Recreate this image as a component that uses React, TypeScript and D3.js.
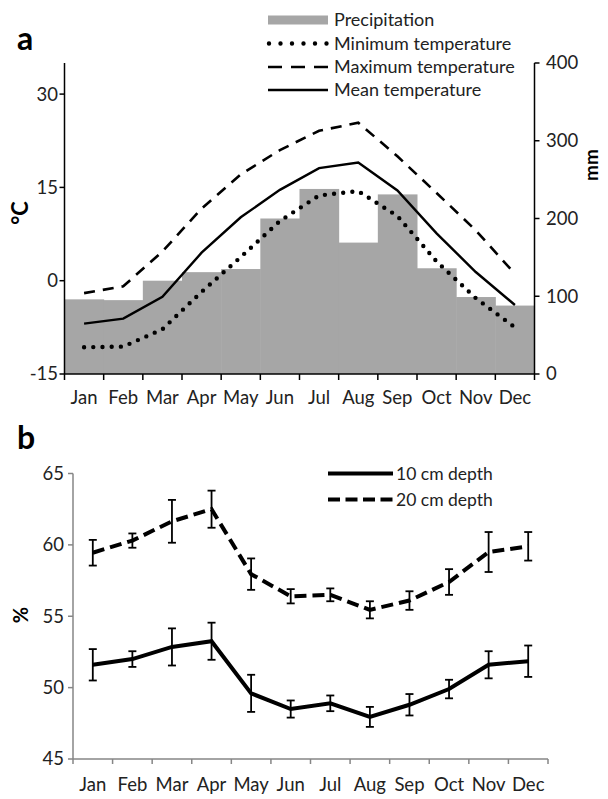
import React from "react";
import * as d3 from "d3";

const months = ["Jan", "Feb", "Mar", "Apr", "May", "Jun", "Jul", "Aug", "Sep", "Oct", "Nov", "Dec"];
const precip = [96, 95, 120, 131, 135, 200, 238, 169, 231, 136, 99, 88];
const tMin = [-10.7, -10.6, -7.8, -1.8, 3.8, 9.6, 13.7, 14.4, 10.4, 3.1, -2.8, -7.5];
const tMax = [-2.0, -0.9, 4.7, 11.6, 17.1, 21.0, 24.1, 25.4, 20.0, 14.1, 8.1, 1.1];
const tMean = [-6.9, -6.1, -2.6, 4.5, 10.2, 14.6, 18.1, 19.0, 14.5, 7.6, 1.4, -3.9];
const tempTicks = [-15, 0, 15, 30];
const precipTicks = [0, 100, 200, 300, 400];

const soil10 = [51.6, 52.0, 52.85, 53.25, 49.6, 48.5, 48.9, 47.95, 48.8, 49.9, 51.6, 51.85];
const soil10Err = [1.1, 0.55, 1.3, 1.3, 1.3, 0.6, 0.55, 0.7, 0.75, 0.65, 0.95, 1.1];
const soil20 = [59.45, 60.3, 61.65, 62.5, 57.95, 56.4, 56.5, 55.45, 56.1, 57.4, 59.5, 59.9];
const soil20Err = [0.9, 0.5, 1.5, 1.3, 1.1, 0.5, 0.45, 0.6, 0.65, 0.9, 1.4, 1.0];
const soilTicks = [45, 50, 55, 60, 65];

const FONT = "Lato, 'Liberation Sans', sans-serif";
const GREY = "#a6a6a6";

export default function App() {
  // Panel a
  const xA = d3.scaleBand<string>().domain(months).range([64.5, 534.5]).padding(0);
  const yT = d3.scaleLinear().domain([-15, 35]).range([374, 63]);
  const yP = d3.scaleLinear().domain([0, 400]).range([374, 63]);
  const cxA = (m: string) => (xA(m) as number) + xA.bandwidth() / 2;
  const tLine = d3
    .line<number>()
    .x((_, i) => cxA(months[i]))
    .y((d) => yT(d));

  // Panel b
  const xB = d3.scaleBand<string>().domain(months).range([73, 548]).padding(0);
  const yB = d3.scaleLinear().domain([45, 65]).range([759, 473.5]);
  const cxB = (m: string) => (xB(m) as number) + xB.bandwidth() / 2;
  const sLine = d3
    .line<number>()
    .x((_, i) => cxB(months[i]))
    .y((d) => yB(d));

  const boundsA = d3.range(months.length + 1).map((i) => xA.range()[0] + i * xA.bandwidth());
  const boundsB = d3.range(months.length + 1).map((i) => xB.range()[0] + i * xB.bandwidth());

  const legendA = [
    { label: "Precipitation", y: 20, kind: "bar" },
    { label: "Minimum temperature", y: 43.5, kind: "dot" },
    { label: "Maximum temperature", y: 67, kind: "dash" },
    { label: "Mean temperature", y: 90, kind: "solid" },
  ];

  const errBars = (vals: number[], errs: number[]) =>
    vals.map((v, i) => {
      const x = cxB(months[i]);
      const y1 = yB(v + errs[i]);
      const y2 = yB(v - errs[i]);
      return (
        <g key={i} stroke="#000" strokeWidth={1.8}>
          <line x1={x} x2={x} y1={y1} y2={y2} />
          <line x1={x - 4} x2={x + 4} y1={y1} y2={y1} />
          <line x1={x - 4} x2={x + 4} y1={y2} y2={y2} />
        </g>
      );
    });

  return (
    <svg width={608} height={799} style={{ position: "absolute", left: 0, top: 0, background: "#fff" }} fontFamily={FONT}>
      <rect width={608} height={799} fill="#fff" />
      {/* ---------- Panel a ---------- */}
      <text x={17} y={50} fontSize={32} fontWeight="bold">a</text>
      {/* bars */}
      {precip.map((p, i) => (
        <rect
          key={i}
          x={xA(months[i])}
          y={yP(p)}
          width={xA.bandwidth() + 0.5}
          height={yP(0) - yP(p)}
          fill={GREY}
        />
      ))}
      {/* lines */}
      <path d={tLine(tMax) || ""} fill="none" stroke="#000" strokeWidth={2.6} strokeDasharray="11 8" />
      <path d={tLine(tMean) || ""} fill="none" stroke="#000" strokeWidth={2.4} />
      <path d={tLine(tMin) || ""} fill="none" stroke="#000" strokeWidth={4.4} strokeDasharray="0 9.2" strokeLinecap="round" />
      {/* axes */}
      <g stroke="#000" strokeWidth={1.5}>
        <line x1={xA.range()[0]} x2={xA.range()[0]} y1={yT(35)} y2={yT(-15)} />
        <line x1={xA.range()[1]} x2={xA.range()[1]} y1={yP(400)} y2={yP(0)} />
        <line x1={xA.range()[0]} x2={xA.range()[1]} y1={yT(-15)} y2={yT(-15)} />
        {boundsA.map((b, i) => (
          <line key={i} x1={b} x2={b} y1={yT(-15)} y2={yT(-15) + 6} />
        ))}
        {tempTicks.map((t) => (
          <line key={t} x1={xA.range()[0] - 5} x2={xA.range()[0]} y1={yT(t)} y2={yT(t)} />
        ))}
        {precipTicks.map((t) => (
          <line key={t} x1={xA.range()[1]} x2={xA.range()[1] + 5} y1={yP(t)} y2={yP(t)} />
        ))}
      </g>
      <g fontSize={18.5} fill="#222">
        {tempTicks.map((t) => (
          <text key={t} x={58} y={yT(t)} dy="0.35em" textAnchor="end">{t}</text>
        ))}
        {precipTicks.map((t) => (
          <text key={t} x={546} y={yP(t)} dy="0.35em" textAnchor="start">{t}</text>
        ))}
        {months.map((m) => (
          <text key={m} x={cxA(m)} y={398} dy="0.35em" textAnchor="middle">{m}</text>
        ))}
      </g>
      <text transform="translate(28,213) rotate(-90)" textAnchor="middle" fontSize={22} fontWeight="bold">°C</text>
      <text transform="translate(598,165) rotate(-90)" textAnchor="middle" fontSize={19} fontWeight="bold">mm</text>
      {/* legend a */}
      {legendA.map((l) => (
        <g key={l.label}>
          {l.kind === "bar" && <rect x={268} y={l.y - 4.5} width={60} height={9} fill={GREY} />}
          {l.kind === "dot" && (
            <line x1={269} x2={327} y1={l.y} y2={l.y} stroke="#000" strokeWidth={4.4} strokeDasharray="0 11.5" strokeLinecap="round" />
          )}
          {l.kind === "dash" && (
            <line x1={268} x2={328} y1={l.y} y2={l.y} stroke="#000" strokeWidth={2.6} strokeDasharray="14 9" />
          )}
          {l.kind === "solid" && <line x1={268} x2={328} y1={l.y} y2={l.y} stroke="#000" strokeWidth={2.4} />}
          <text x={334} y={l.y} dy="0.35em" fontSize={18} fill="#222">{l.label}</text>
        </g>
      ))}

      {/* ---------- Panel b ---------- */}
      <text x={17} y={449} fontSize={32} fontWeight="bold">b</text>
      <g stroke="#868686" strokeWidth={1.5}>
        <line x1={xB.range()[0]} x2={xB.range()[0]} y1={yB(65)} y2={yB(45)} />
        <line x1={xB.range()[0]} x2={xB.range()[1]} y1={yB(45)} y2={yB(45)} />
        {boundsB.map((b, i) => (
          <line key={i} x1={b} x2={b} y1={yB(45)} y2={yB(45) + 5} />
        ))}
        {soilTicks.map((t) => (
          <line key={t} x1={xB.range()[0] - 5} x2={xB.range()[0]} y1={yB(t)} y2={yB(t)} />
        ))}
      </g>
      <g fontSize={18.5} fill="#222">
        {soilTicks.map((t) => (
          <text key={t} x={64} y={yB(t)} dy="0.35em" textAnchor="end">{t}</text>
        ))}
        {months.map((m) => (
          <text key={m} x={cxB(m)} y={785} dy="0.35em" textAnchor="middle">{m}</text>
        ))}
      </g>
      <text transform="translate(28,615) rotate(-90)" textAnchor="middle" fontSize={20} fontWeight="bold">%</text>
      <path d={sLine(soil20) || ""} fill="none" stroke="#000" strokeWidth={4} strokeDasharray="12 6" />
      <path d={sLine(soil10) || ""} fill="none" stroke="#000" strokeWidth={4} />
      {errBars(soil20, soil20Err)}
      {errBars(soil10, soil10Err)}
      {/* legend b */}
      <line x1={328} x2={393} y1={473.5} y2={473.5} stroke="#000" strokeWidth={4} />
      <text x={396} y={473.5} dy="0.35em" fontSize={17.5} fill="#222">10 cm depth</text>
      <line x1={328} x2={393} y1={499.5} y2={499.5} stroke="#000" strokeWidth={4} strokeDasharray="12 5.5" />
      <text x={396} y={499.5} dy="0.35em" fontSize={17.5} fill="#222">20 cm depth</text>
    </svg>
  );
}
